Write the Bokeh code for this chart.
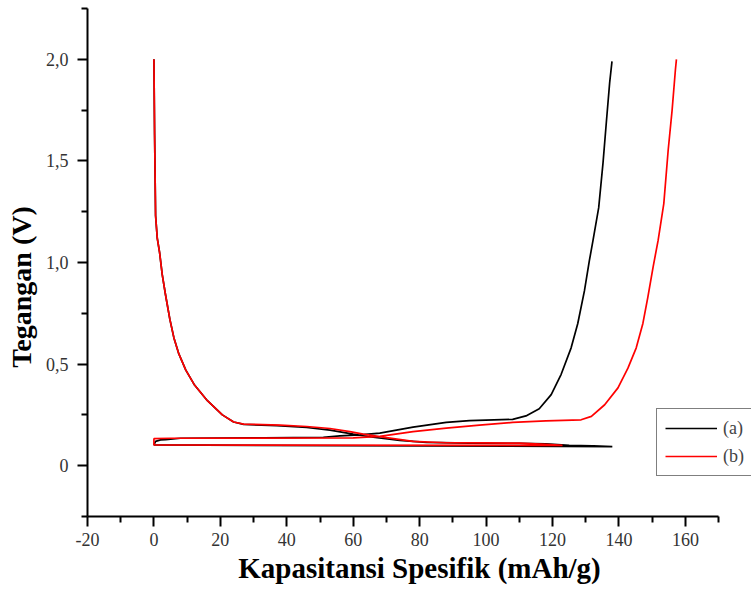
from bokeh.plotting import figure
from bokeh.models import Range1d, FixedTicker, Legend, LegendItem
from bokeh.embed import file_html
from bokeh.resources import INLINE

# ---- data ----
cap_a = [0, 0.2, 0.5, 1.0, 1.7, 2.5, 3.5, 4.8, 6.0, 7.5, 9.6, 12.1, 16.1, 20.6, 24, 27, 37, 46, 53, 60,
         66, 74, 82, 95, 110, 118, 125, 132, 138,
         0, 0.5, 2, 3.5, 8, 33, 51, 56, 62, 68, 78, 88, 95, 108, 112, 116, 119.6, 122.6, 125.6,
         127.6, 129.6, 131.1, 132.2, 133.9, 135.2, 136.2, 137.2, 137.9]
volt_a = [2.0, 1.63, 1.23, 1.12, 1.05, 0.94, 0.84, 0.72, 0.63, 0.55, 0.47, 0.40, 0.32, 0.25, 0.215, 0.203,
          0.197, 0.188, 0.175, 0.155, 0.14, 0.125, 0.115, 0.111, 0.11, 0.108, 0.1, 0.098, 0.094,
          0.102, 0.12, 0.127, 0.128, 0.135, 0.137, 0.14, 0.147, 0.152, 0.16, 0.19, 0.213, 0.222, 0.228,
          0.245, 0.28, 0.35, 0.45, 0.58, 0.70, 0.86, 1.01, 1.11, 1.27, 1.49, 1.69, 1.885, 1.99]

cap_b = [0, 0.2, 0.5, 1.0, 1.7, 2.5, 3.5, 4.8, 6.0, 7.5, 9.6, 12.1, 16.1, 20.6, 24, 27, 38, 46, 53, 59,
         63, 70, 78, 88, 100, 110, 118, 123,
         0, 0, 5, 60, 68, 78, 88, 98, 108, 118, 128.6, 131.7, 135.7, 139.7, 142.7, 145.2, 147.2,
         148.7, 150.3, 151.8, 153.5, 154.8, 156, 157, 157.3]
volt_b = [2.0, 1.63, 1.23, 1.12, 1.05, 0.94, 0.84, 0.72, 0.63, 0.55, 0.47, 0.40, 0.32, 0.25, 0.215, 0.205,
          0.2, 0.193, 0.183, 0.168, 0.155, 0.138, 0.12, 0.113, 0.112, 0.111, 0.105, 0.1,
          0.102, 0.133, 0.135, 0.137, 0.144, 0.168, 0.185, 0.2, 0.213, 0.221, 0.226, 0.243, 0.30,
          0.383, 0.48, 0.58, 0.70, 0.83, 0.98, 1.11, 1.29, 1.55, 1.75, 1.95, 2.0]

series_labels = ["(a)", "(b)"]
x_major = [-20, 0, 20, 40, 60, 80, 100, 120, 140, 160]
x_minor = [-10, 10, 30, 50, 70, 90, 110, 130, 150, 170]
y_major = [0, 0.5, 1.0, 1.5, 2.0]
y_minor = [-0.25, 0.25, 0.75, 1.25, 1.75, 2.25]
y_tick_labels = ["0", "0,5", "1,0", "1,5", "2,0"]

FONT = "Liberation Serif"

# frame extends to the right edge so the legend (which overhangs the axis end) is not clipped;
# the x axis line itself stops at 170 via bounds
p = figure(width=751, height=595, output_backend="svg", toolbar_location=None,
           x_range=Range1d(-20, 179.9), y_range=Range1d(-0.25, 2.25),
           min_border_left=87, min_border_right=0, min_border_top=8, min_border_bottom=79)
p.outline_line_color = None
p.grid.visible = False
p.background_fill_color = "white"
p.border_fill_color = "white"

ra = p.line(cap_a, volt_a, line_color="black", line_width=1.7)
rb = p.line(cap_b, volt_b, line_color="#ff0000", line_width=1.7)

p.xaxis.ticker = FixedTicker(ticks=x_major, minor_ticks=x_minor)
p.yaxis.ticker = FixedTicker(ticks=y_major, minor_ticks=y_minor)
p.yaxis.major_label_overrides = {float(k): v for k, v in zip(y_major, y_tick_labels)}
p.xaxis.major_label_overrides = {float(k): str(k) for k in x_major}
p.xaxis.bounds = (-20, 170)

for ax in (p.xaxis[0], p.yaxis[0]):
    ax.axis_line_width = 2
    ax.axis_line_color = "black"
    ax.major_tick_line_width = 2
    ax.minor_tick_line_width = 2
    ax.major_tick_line_color = "black"
    ax.minor_tick_line_color = "black"
    ax.major_tick_out = 10
    ax.major_tick_in = 0
    ax.minor_tick_out = 6
    ax.minor_tick_in = 0
    ax.major_label_text_font = FONT
    ax.major_label_text_font_size = "18px"
    ax.major_label_text_color = "#333333"
    ax.axis_label_text_font = FONT
    ax.axis_label_text_font_style = "bold"
    ax.axis_label_text_color = "black"

p.xaxis.axis_label = "Kapasitansi Spesifik (mAh/g)"
# trailing non-breaking spaces nudge the rotated label down, as in the original
p.yaxis.axis_label = "Tegangan (V)" + "\u00a0" * 7
p.xaxis.axis_label_text_font_size = "29px"
p.yaxis.axis_label_text_font_size = "28px"
p.xaxis.major_label_standoff = 6
p.yaxis.major_label_standoff = 9
p.xaxis.axis_label_standoff = 3
p.yaxis.axis_label_standoff = 6

legend = Legend(items=[LegendItem(label=series_labels[0], renderers=[ra]),
                       LegendItem(label=series_labels[1], renderers=[rb])],
                location=(569, 40))
legend.border_line_color = "black"
legend.border_line_width = 1.5
legend.background_fill_color = "white"
legend.background_fill_alpha = 1
legend.label_text_font = FONT
legend.label_text_font_size = "18px"
legend.glyph_width = 52
legend.glyph_height = 22
legend.label_height = 22
legend.label_width = 40
legend.label_standoff = 6
legend.padding = 8
legend.spacing = 6
legend.margin = 0
p.add_layout(legend, "center")

open("out.html", "w").write(file_html(p, INLINE))
